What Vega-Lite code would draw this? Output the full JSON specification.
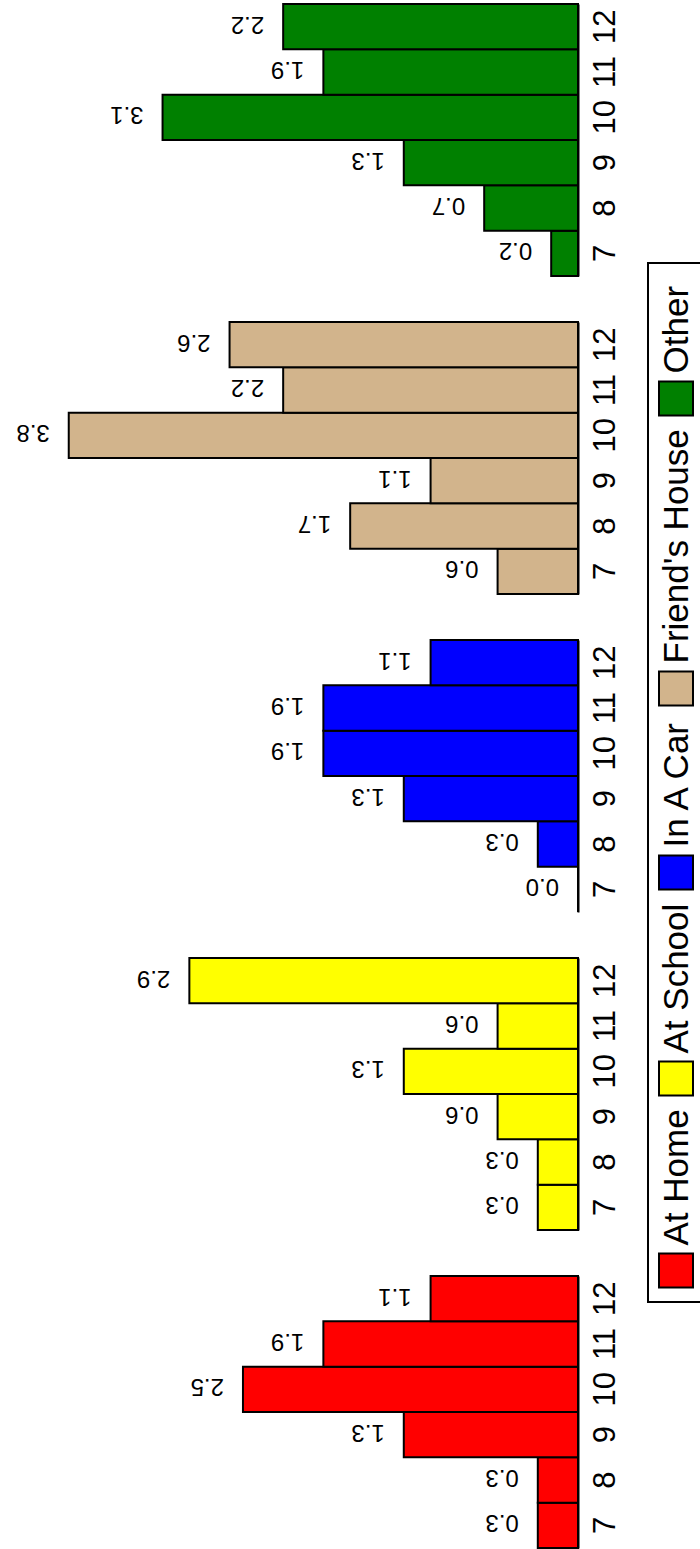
{
  "$schema": "https://vega.github.io/schema/vega-lite/v6.json",
  "padding": {"left": 0, "top": 3, "right": 0, "bottom": 0},
  "background": "white",
  "bounds": "flush",
  "data": {"values": [
    {"place": "At Home", "grade": 7, "value": 0.3},
    {"place": "At Home", "grade": 8, "value": 0.3},
    {"place": "At Home", "grade": 9, "value": 1.3},
    {"place": "At Home", "grade": 10, "value": 2.5},
    {"place": "At Home", "grade": 11, "value": 1.9},
    {"place": "At Home", "grade": 12, "value": 1.1},
    {"place": "At School", "grade": 7, "value": 0.3},
    {"place": "At School", "grade": 8, "value": 0.3},
    {"place": "At School", "grade": 9, "value": 0.6},
    {"place": "At School", "grade": 10, "value": 1.3},
    {"place": "At School", "grade": 11, "value": 0.6},
    {"place": "At School", "grade": 12, "value": 2.9},
    {"place": "In A Car", "grade": 7, "value": 0.0},
    {"place": "In A Car", "grade": 8, "value": 0.3},
    {"place": "In A Car", "grade": 9, "value": 1.3},
    {"place": "In A Car", "grade": 10, "value": 1.9},
    {"place": "In A Car", "grade": 11, "value": 1.9},
    {"place": "In A Car", "grade": 12, "value": 1.1},
    {"place": "Friend's House", "grade": 7, "value": 0.6},
    {"place": "Friend's House", "grade": 8, "value": 1.7},
    {"place": "Friend's House", "grade": 9, "value": 1.1},
    {"place": "Friend's House", "grade": 10, "value": 3.8},
    {"place": "Friend's House", "grade": 11, "value": 2.2},
    {"place": "Friend's House", "grade": 12, "value": 2.6},
    {"place": "Other", "grade": 7, "value": 0.2},
    {"place": "Other", "grade": 8, "value": 0.7},
    {"place": "Other", "grade": 9, "value": 1.3},
    {"place": "Other", "grade": 10, "value": 3.1},
    {"place": "Other", "grade": 11, "value": 1.9},
    {"place": "Other", "grade": 12, "value": 2.2}
  ]},
  "facet": {
    "row": {
      "field": "place", "type": "nominal",
      "sort": ["Other", "Friend's House", "In A Car", "At School", "At Home"],
      "header": {"labels": false, "title": null},
      "title": null
    }
  },
  "spacing": 46,
  "spec": {
    "width": 578,
    "height": 272,
    "encoding": {
      "y": {
        "field": "grade", "type": "ordinal", "sort": "descending",
        "scale": {"paddingInner": 0, "paddingOuter": 0},
        "axis": {
          "orient": "right", "title": null, "ticks": false,
          "domain": true, "domainColor": "black", "domainWidth": 2,
          "labelAngle": -90, "labelAlign": "center", "labelBaseline": "top",
          "labelPadding": 12, "labelFontSize": 31, "labelFont": "Liberation Sans",
          "labelColor": "black"
        }
      },
      "x": {
        "field": "value", "type": "quantitative",
        "scale": {"domain": [0, 4.313], "reverse": true, "nice": false, "zero": true},
        "axis": null
      }
    },
    "layer": [
      {
        "mark": {"type": "bar", "stroke": "black", "strokeWidth": 2, "opacity": 1},
        "encoding": {
          "color": {
            "field": "place", "type": "nominal",
            "scale": {
              "domain": ["Other", "Friend's House", "In A Car", "At School", "At Home"],
              "range": ["#008000", "#D2B48C", "#0000FF", "#FFFF00", "#FF0000"]
            },
            "legend": {
              "orient": "none", "legendX": 648, "legendY": 259,
              "direction": "vertical", "columns": 1, "title": null,
              "symbolType": "M-1,5.32H1V7.32H-1Z", "symbolSize": 1156,
              "symbolStrokeColor": "black", "symbolStrokeWidth": 2, "symbolOpacity": 1,
              "labelFontSize": 35, "labelFont": "Liberation Sans", "labelColor": "black",
              "labelLimit": 0, "labelOffset": -17, "rowPadding": 9,
              "padding": 10, "strokeColor": "black", "fillColor": "white",
              "encoding": {
                "labels": {"angle": {"value": -90}, "dx": {"value": -82.5}},
                "legend": {"strokeWidth": {"value": 2}}
              }
            }
          }
        }
      },
      {
        "mark": {
          "type": "text", "angle": 180, "align": "left", "baseline": "middle",
          "dx": 19, "dy": 3, "fontSize": 24, "font": "Liberation Sans", "color": "black"
        },
        "encoding": {
          "text": {"field": "value", "type": "quantitative", "format": ".1f"}
        }
      }
    ]
  },
  "config": {"view": {"stroke": null}}
}
